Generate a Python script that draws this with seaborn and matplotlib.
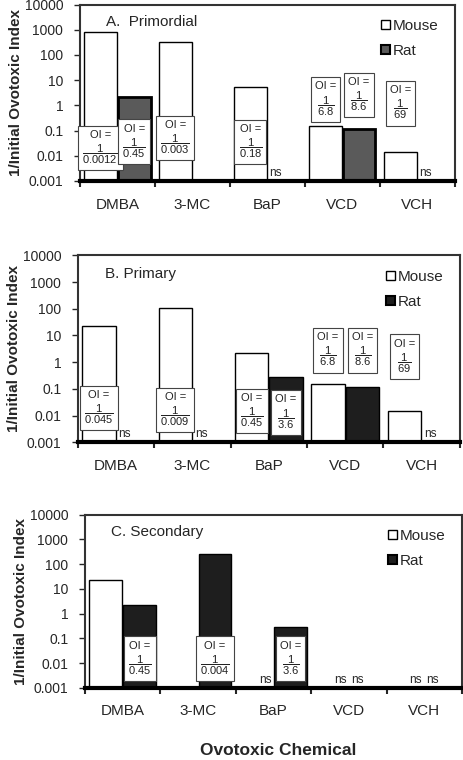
import numpy as np
import pandas as pd
import matplotlib
matplotlib.use("Agg")
import matplotlib.pyplot as plt
import seaborn as sns
from matplotlib.patches import Patch
from matplotlib.offsetbox import TextArea, VPacker, AnnotationBbox

sns.set_style("white")
plt.rcParams['font.family'] = ['Liberation Sans', 'DejaVu Sans']
plt.rcParams['mathtext.fontset'] = 'custom'
plt.rcParams['mathtext.rm'] = 'Liberation Sans'
plt.rcParams['mathtext.it'] = 'Liberation Sans'

chemicals = ["DMBA", "3-MC", "BaP", "VCD", "VCH"]
species = ["Mouse", "Rat"]

# initial ovotoxic index (OI); bar height = 1/OI, None = no bar
oi_primordial_mouse = [0.0012, 0.003, 0.18, 6.8, 69]
oi_primordial_rat = [0.45, None, None, 8.6, None]
oi_primary_mouse = [0.045, 0.009, 0.45, 6.8, 69]
oi_primary_rat = [None, None, 3.6, 8.6, None]
oi_secondary_mouse = [0.045, None, None, None, None]
oi_secondary_rat = [0.45, 0.004, 3.6, None, None]

# "ns" (not significant) flags
ns_primordial_mouse = [False, False, False, False, False]
ns_primordial_rat = [False, False, True, False, True]
ns_primary_mouse = [False, False, False, False, False]
ns_primary_rat = [True, True, False, False, True]
ns_secondary_mouse = [False, False, True, True, True]
ns_secondary_rat = [False, False, False, True, True]

panels = [
    dict(title="A.  Primordial", mouse=oi_primordial_mouse, rat=oi_primordial_rat,
         ns_mouse=ns_primordial_mouse, ns_rat=ns_primordial_rat,
         rat_color="#5a5a5a", rat_edge=2.0,
         box_mouse=[0.02, 0.05, 0.035, 1.7, 1.2], box_rat=[0.036, None, None, 2.6, None],
         rect=[0.172, 0.762, 0.808, 0.232]),
    dict(title="B. Primary", mouse=oi_primary_mouse, rat=oi_primary_rat,
         ns_mouse=ns_primary_mouse, ns_rat=ns_primary_rat,
         rat_color="#1e1e1e", rat_edge=1.0,
         box_mouse=[0.019, 0.016, 0.015, 2.8, 1.6], box_rat=[None, None, 0.013, 2.8, None],
         rect=[0.168, 0.418, 0.823, 0.246]),
    dict(title="C. Secondary", mouse=oi_secondary_mouse, rat=oi_secondary_rat,
         ns_mouse=ns_secondary_mouse, ns_rat=ns_secondary_rat,
         rat_color="#1e1e1e", rat_edge=1.0,
         box_mouse=[None, None, None, None, None], box_rat=[0.015, 0.015, 0.015, None, None],
         rect=[0.183, 0.095, 0.8125, 0.228]),
]

fig = plt.figure(figsize=(4.64, 7.6), dpi=100)

for p in panels:
    ax = fig.add_axes(p["rect"])
    rows = []
    for chem, om, orat in zip(chemicals, p["mouse"], p["rat"]):
        if om is not None:
            rows.append((chem, "Mouse", 1.0 / om))
        if orat is not None:
            rows.append((chem, "Rat", 1.0 / orat))
    df = pd.DataFrame(rows, columns=["chemical", "species", "value"])

    ax.set_yscale("log")
    sns.barplot(data=df, x="chemical", y="value", hue="species", order=chemicals,
                hue_order=species, palette={"Mouse": "white", "Rat": p["rat_color"]},
                width=0.9, gap=0.03, edgecolor="black", linewidth=1.0,
                legend=False, ax=ax)
    for bar in ax.patches:
        if bar.get_facecolor()[0] < 0.5:
            bar.set_linewidth(p["rat_edge"])

    ax.set_ylim(0.001, 10000)
    ax.set_xlim(-0.5, 4.5)
    ax.set_yticks([10.0 ** k for k in range(-3, 5)])
    ax.set_yticklabels(["0.001", "0.01", "0.1", "1", "10", "100", "1000", "10000"], fontsize=10)
    ax.minorticks_off()
    ax.set_xticks(range(5))
    ax.set_xticklabels(chemicals, fontsize=11)
    ax.set_xticks(np.arange(-0.5, 5, 1), minor=True)
    ax.tick_params(axis="x", which="major", length=0, pad=12)
    ax.tick_params(axis="x", which="minor", length=4, width=1.5, direction="out", bottom=True)
    ax.tick_params(axis="y", length=4, width=1, direction="out", left=True, pad=8)
    ax.set_xlabel("")
    ax.set_ylabel("1/Initial Ovotoxic Index", fontsize=11, fontweight="bold", labelpad=1)
    for side in ["top", "right", "left"]:
        ax.spines[side].set_color("#333333")
        ax.spines[side].set_linewidth(1.5)
    ax.spines["bottom"].set_color("black")
    ax.spines["bottom"].set_linewidth(3)

    ax.text(0.07, 0.9, p["title"], transform=ax.transAxes, fontsize=11, va="center")

    handles = [Patch(facecolor="white", edgecolor="black", linewidth=1),
               Patch(facecolor=p["rat_color"], edgecolor="black", linewidth=1.5)]
    ax.legend(handles, species, loc="upper right", frameon=False, fontsize=11,
              handlelength=0.55, handleheight=0.55, handletextpad=0.2,
              labelspacing=0.75, borderaxespad=0.3, bbox_to_anchor=(0.985, 0.98))

    # "OI = 1/x" label boxes
    for i, chem in enumerate(chemicals):
        for oi, ns, ypos, dx in ((p["mouse"][i], p["ns_mouse"][i], p["box_mouse"][i], -0.225),
                                 (p["rat"][i], p["ns_rat"][i], p["box_rat"][i], 0.225)):
            if oi is not None and ypos is not None:
                pack = VPacker(children=[TextArea("OI =", textprops=dict(fontsize=8, color="#222222")),
                                         TextArea(r"$\dfrac{1}{%s}$" % f"{oi:g}",
                                                  textprops=dict(fontsize=8, color="#222222"))],
                               align="center", pad=0, sep=2)
                ab = AnnotationBbox(pack, (i + dx, ypos), xycoords="data", frameon=True,
                                    pad=0.3, zorder=5,
                                    bboxprops=dict(boxstyle="square", facecolor="white",
                                                   edgecolor="#444444", linewidth=0.8))
                ax.add_artist(ab)
            if ns:
                ax.text(i + dx * 0.5, 0.0021, "ns", ha="center", va="center",
                        fontsize=8.5, zorder=5)

fig.text(0.6, 0.013, "Ovotoxic Chemical", ha="center", va="center",
         fontsize=12.5, fontweight="bold")

fig.savefig("out.png", dpi=100)
